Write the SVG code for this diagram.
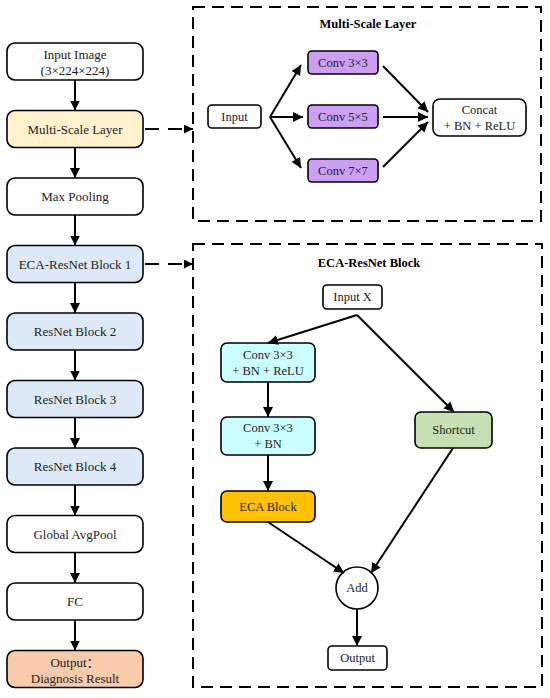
<svg xmlns="http://www.w3.org/2000/svg" width="550" height="698" viewBox="0 0 550 698">
<defs>
<marker id="ah" viewBox="0 0 10 10" refX="10" refY="5" markerWidth="5" markerHeight="5" orient="auto" markerUnits="strokeWidth">
<path d="M0,0 L10,5 L0,10 Z" fill="#000"/>
</marker>
<marker id="ahs" viewBox="0 0 10 10" refX="10" refY="5" markerWidth="4.5" markerHeight="4.5" orient="auto" markerUnits="strokeWidth">
<path d="M0,0 L10,5 L0,10 Z" fill="#000"/>
</marker>
</defs>
<style>
.b{stroke:#000;stroke-width:1.6}
.t{font-family:"Liberation Serif","Times New Roman",serif;font-size:13px;fill:#222;text-anchor:middle;dominant-baseline:central}
.s{font-size:12.5px}
.h{font-family:"Liberation Serif","Times New Roman",serif;font-size:12.5px;font-weight:bold;fill:#000;text-anchor:middle;dominant-baseline:central}
.c{stroke:#000;stroke-width:2;fill:none;marker-end:url(#ah)}
.d{stroke:#000;stroke-width:2;fill:none;stroke-dasharray:12,7}
.dr{stroke:#000;stroke-width:2;fill:none;stroke-dasharray:14,9;marker-end:url(#ahs)}
</style>
<rect width="550" height="698" fill="#fff"/>

<g id="container-multiscale">
<rect x="193" y="7" width="348" height="214" class="d"/>
<text x="368" y="24" class="h">Multi-Scale Layer</text>
</g>
<g id="container-eca">
<rect x="193" y="244" width="349" height="443" class="d"/>
<text x="369" y="263" class="h">ECA-ResNet Block</text>
</g>

<g id="n-input-image"><rect x="7" y="43" width="136" height="37" rx="8" fill="#fff" class="b"/><text x="75" y="54" class="t">Input Image</text><text x="75" y="70" class="t">(3×224×224)</text></g>
<g id="n-multiscale"><rect x="7" y="110.5" width="136" height="37" rx="8" fill="#fff2cc" class="b"/><text x="75" y="129" class="t">Multi-Scale Layer</text></g>
<g id="n-maxpool"><rect x="7" y="178" width="136" height="37" rx="8" fill="#fff" class="b"/><text x="75" y="196.5" class="t">Max Pooling</text></g>
<g id="n-eca1"><rect x="7" y="245.5" width="136" height="37" rx="8" fill="#dde9f6" class="b"/><text x="75" y="264" class="t">ECA-ResNet Block 1</text></g>
<g id="n-res2"><rect x="7" y="313" width="136" height="37" rx="8" fill="#dde9f6" class="b"/><text x="75" y="331.5" class="t">ResNet Block 2</text></g>
<g id="n-res3"><rect x="7" y="380.5" width="136" height="37" rx="8" fill="#dde9f6" class="b"/><text x="75" y="399" class="t">ResNet Block 3</text></g>
<g id="n-res4"><rect x="7" y="448" width="136" height="37" rx="8" fill="#dde9f6" class="b"/><text x="75" y="466.5" class="t">ResNet Block 4</text></g>
<g id="n-gap"><rect x="7" y="515.5" width="136" height="37" rx="8" fill="#fff" class="b"/><text x="75" y="534" class="t">Global AvgPool</text></g>
<g id="n-fc"><rect x="7" y="583" width="136" height="37" rx="8" fill="#fff" class="b"/><text x="75" y="601.5" class="t">FC</text></g>
<g id="n-output"><rect x="7" y="650.5" width="136" height="37" rx="8" fill="#f8cbad" class="b"/><text x="75" y="662" class="t" style="font-family:'Liberation Serif','Noto Sans CJK SC',serif">Output：</text><text x="75" y="678" class="t">Diagnosis Result</text></g>

<g id="n-ms-input"><rect x="208" y="105" width="53" height="23" rx="4" fill="#fff" class="b"/><text x="234.5" y="116.5" class="t s">Input</text></g>
<g id="n-conv3"><rect x="308" y="51" width="70" height="23" rx="4" fill="#cc9ff5" class="b"/><text x="343" y="62.5" class="t s">Conv 3×3</text></g>
<g id="n-conv5"><rect x="308" y="105" width="70" height="23" rx="4" fill="#cc9ff5" class="b"/><text x="343" y="116.5" class="t s">Conv 5×5</text></g>
<g id="n-conv7"><rect x="308" y="159" width="70" height="23" rx="4" fill="#cc9ff5" class="b"/><text x="343" y="170.5" class="t s">Conv 7×7</text></g>
<g id="n-concat"><rect x="433" y="99" width="93" height="37" rx="7" fill="#fff" class="b"/><text x="479.5" y="110" class="t s">Concat</text><text x="479.5" y="126" class="t s">+ BN + ReLU</text></g>

<g id="n-inputx"><rect x="323" y="285" width="59" height="24" rx="4" fill="#fff" class="b"/><text x="352.5" y="297" class="t s">Input X</text></g>
<g id="n-conv-a"><rect x="221" y="343" width="94" height="39" rx="6" fill="#ccffff" class="b"/><text x="268" y="354.5" class="t s">Conv 3×3</text><text x="268" y="370.5" class="t s">+ BN + ReLU</text></g>
<g id="n-conv-b"><rect x="221" y="417" width="94" height="38" rx="6" fill="#ccffff" class="b"/><text x="268" y="428" class="t s">Conv 3×3</text><text x="268" y="444" class="t s">+ BN</text></g>
<g id="n-shortcut"><rect x="415" y="412" width="77" height="36" rx="6" fill="#c6e0b4" class="b"/><text x="453.5" y="430" class="t s">Shortcut</text></g>
<g id="n-ecablock"><rect x="221" y="491" width="94" height="31" rx="6" fill="#ffc000" class="b"/><text x="268" y="506.5" class="t s">ECA Block</text></g>
<g id="n-add"><circle cx="357" cy="588" r="21" fill="#fff" class="b"/><text x="357" y="588" class="t s">Add</text></g>
<g id="n-eca-output"><rect x="328" y="646" width="59" height="24" rx="4" fill="#fff" class="b"/><text x="357.5" y="658" class="t s">Output</text></g>

<g id="connectors">
<line x1="75" y1="80" x2="75" y2="110.5" class="c"/>
<line x1="75" y1="147.5" x2="75" y2="178" class="c"/>
<line x1="75" y1="215" x2="75" y2="245.5" class="c"/>
<line x1="75" y1="282.5" x2="75" y2="313" class="c"/>
<line x1="75" y1="350" x2="75" y2="380.5" class="c"/>
<line x1="75" y1="417.5" x2="75" y2="448" class="c"/>
<line x1="75" y1="485" x2="75" y2="515.5" class="c"/>
<line x1="75" y1="552.5" x2="75" y2="583" class="c"/>
<line x1="75" y1="620" x2="75" y2="650.5" class="c"/>
<line x1="145" y1="129" x2="193" y2="129" class="dr"/>
<line x1="145" y1="264" x2="193" y2="264" class="dr"/>

<line x1="270" y1="117" x2="301" y2="65" class="c"/>
<line x1="270" y1="117" x2="303" y2="117" class="c"/>
<line x1="270" y1="117" x2="301" y2="168" class="c"/>
<line x1="383" y1="66" x2="428" y2="112" class="c"/>
<line x1="383" y1="117" x2="428" y2="117" class="c"/>
<line x1="383" y1="167" x2="428" y2="122" class="c"/>

<line x1="357" y1="315" x2="268" y2="343" class="c"/>
<line x1="357" y1="315" x2="454" y2="412" class="c"/>
<line x1="268" y1="382" x2="268" y2="417" class="c"/>
<line x1="268" y1="455" x2="268" y2="491" class="c"/>
<line x1="268" y1="522" x2="344" y2="573" class="c"/>
<line x1="453" y1="448" x2="371" y2="573" class="c"/>
<line x1="357" y1="609" x2="357" y2="646" class="c"/>
</g>
</svg>
